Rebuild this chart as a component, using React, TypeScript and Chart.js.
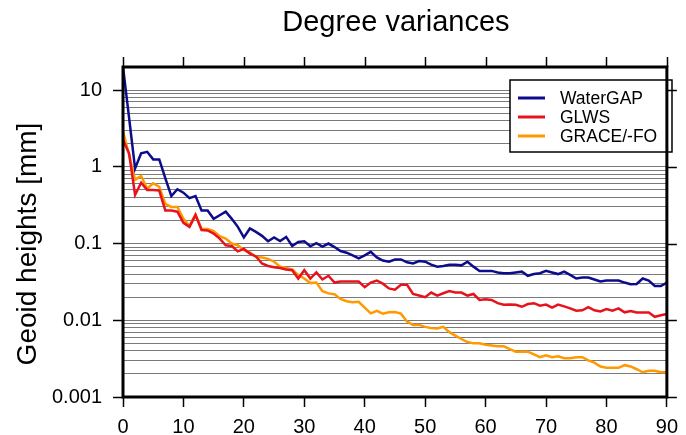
import React, { useEffect, useRef } from "react";
import { Chart, registerables } from "chart.js";

Chart.register(...registerables);

const degrees = [
  0, 1, 2, 3, 4, 5, 6, 7, 8, 9, 10, 11, 12, 13, 14, 15, 16, 17, 18, 19, 20,
  21, 22, 23, 24, 25, 26, 27, 28, 29, 30, 31, 32, 33, 34, 35, 36, 37, 38, 39, 40,
  41, 42, 43, 44, 45, 46, 47, 48, 49, 50, 51, 52, 53, 54, 55, 56, 57, 58, 59, 60,
  61, 62, 63, 64, 65, 66, 67, 68, 69, 70, 71, 72, 73, 74, 75, 76, 77, 78, 79, 80,
  81, 82, 83, 84, 85, 86, 87, 88, 89, 90,
];

const waterGAP = [
  20, 4.4, 0.95, 1.5, 1.57, 1.25, 1.25, 0.71, 0.415, 0.51, 0.46,
  0.39, 0.415, 0.27, 0.27, 0.21, 0.234, 0.26, 0.21, 0.165, 0.12,
  0.157, 0.142, 0.126, 0.107, 0.12, 0.108, 0.122, 0.093, 0.105, 0.107,
  0.092, 0.101, 0.091, 0.1, 0.09, 0.08, 0.076, 0.07, 0.064, 0.07,
  0.078, 0.066, 0.06, 0.058, 0.062, 0.062, 0.057, 0.055, 0.059, 0.058,
  0.053, 0.05, 0.051, 0.053, 0.053, 0.052, 0.058, 0.05, 0.044, 0.044,
  0.044, 0.042, 0.041, 0.041, 0.042, 0.043, 0.038, 0.04, 0.041, 0.044,
  0.042, 0.04, 0.043, 0.039, 0.035, 0.036, 0.036, 0.034, 0.032, 0.033,
  0.033, 0.033, 0.031, 0.0295, 0.0297, 0.035, 0.033, 0.028, 0.028, 0.031,
];

const glws = [
  2.23, 1.5, 0.43, 0.62, 0.5, 0.5, 0.49, 0.27, 0.27, 0.26, 0.186,
  0.165, 0.235, 0.15, 0.148, 0.135, 0.116, 0.095, 0.093, 0.079, 0.085,
  0.074, 0.068, 0.055, 0.051, 0.049, 0.048, 0.046, 0.045, 0.035, 0.045,
  0.035, 0.042, 0.034, 0.038, 0.031, 0.032, 0.032, 0.032, 0.032, 0.027,
  0.031, 0.033, 0.03, 0.026, 0.025, 0.029, 0.029, 0.022, 0.021, 0.02,
  0.023, 0.021, 0.0225, 0.024, 0.023, 0.023, 0.021, 0.022, 0.0184, 0.0188,
  0.0184, 0.0167, 0.0159, 0.016, 0.0159, 0.015, 0.0163, 0.0167, 0.0155, 0.016,
  0.0146, 0.016, 0.0152, 0.0143, 0.0133, 0.0135, 0.0148, 0.0135, 0.013, 0.014,
  0.0133, 0.0143, 0.0127, 0.0132, 0.0126, 0.0126, 0.0126, 0.0111, 0.0116, 0.0121,
];

const graceFO = [
  2.87, 1.45, 0.68, 0.76, 0.52, 0.61, 0.55, 0.33, 0.3, 0.3, 0.21,
  0.17, 0.24, 0.155, 0.155, 0.145, 0.125, 0.116, 0.1, 0.095, 0.082,
  0.077, 0.067, 0.066, 0.063, 0.058, 0.05, 0.048, 0.046, 0.039, 0.035,
  0.0305, 0.031, 0.024, 0.0224, 0.0218, 0.019, 0.0177, 0.0172, 0.0174, 0.0146,
  0.0123, 0.0133, 0.0122, 0.0127, 0.0128, 0.0122, 0.0096, 0.0087, 0.0087, 0.0082,
  0.0079, 0.0078, 0.0082, 0.007, 0.0063, 0.0057, 0.0052, 0.005, 0.005, 0.0048,
  0.0047, 0.0046, 0.0046, 0.0042, 0.0039, 0.0039, 0.0039, 0.0036, 0.0033, 0.0035,
  0.0033, 0.0034, 0.0032, 0.0032, 0.0033, 0.0033, 0.003, 0.0028, 0.0025, 0.0024,
  0.0024, 0.0024, 0.0026, 0.0025, 0.0023, 0.0021, 0.0022, 0.0022, 0.0021, 0.0021,
];

const seriesLabels = ["WaterGAP", "GLWS", "GRACE/-FO"];
const seriesColors = ["#0c0c8c", "#e8121c", "#ff9900"];

const yGridValues = [
  0.001, 0.002, 0.003, 0.004, 0.005, 0.006, 0.007, 0.008, 0.009,
  0.01, 0.02, 0.03, 0.04, 0.05, 0.06, 0.07, 0.08, 0.09,
  0.1, 0.2, 0.3, 0.4, 0.5, 0.6, 0.7, 0.8, 0.9,
  1, 2, 3, 4, 5, 6, 7, 8, 9,
  10, 20,
];
const yLabelValues = [0.001, 0.01, 0.1, 1, 10];

const titleText = "Degree variances";
const yTitleText = "Geoid heights [mm]";
const FONT = "'Liberation Sans', Arial, Helvetica, sans-serif";

const isDecade = (v: number) => yLabelValues.some((d) => Math.abs(d - v) / d < 1e-6);

const decorPlugin = {
  id: "decor",
  afterDatasetsDraw(chart: any) {
    const { ctx } = chart;
    // legend box
    const bx = 510, by = 80, bw = 162, bh = 72;
    ctx.save();
    ctx.fillStyle = "#ffffff";
    ctx.fillRect(bx, by, bw, bh);
    ctx.strokeStyle = "#000";
    ctx.lineWidth = 1.5;
    ctx.strokeRect(bx, by, bw, bh);
    ctx.font = `17.5px ${FONT}`;
    ctx.textBaseline = "middle";
    ctx.textAlign = "left";
    chart.data.datasets.forEach((ds: any, i: number) => {
      const y = by + 18 + i * 19;
      ctx.strokeStyle = ds.borderColor;
      ctx.lineWidth = 3;
      ctx.beginPath();
      ctx.moveTo(bx + 8, y);
      ctx.lineTo(bx + 35, y);
      ctx.stroke();
      ctx.fillStyle = "#000";
      ctx.fillText(ds.label, bx + 50, y + 1);
    });
    ctx.restore();
  },
  afterDraw(chart: any) {
    const { ctx, chartArea: a, scales } = chart;
    ctx.save();
    ctx.strokeStyle = "#000";
    ctx.lineWidth = 1.5;
    // top ticks
    scales.x.ticks.forEach((t: any) => {
      const px = Math.round(scales.x.getPixelForValue(t.value)) + 0.5;
      ctx.beginPath();
      ctx.moveTo(px, a.top);
      ctx.lineTo(px, a.top - 10);
      ctx.stroke();
    });
    // right ticks
    yLabelValues.forEach((v) => {
      const py = Math.round(scales.y.getPixelForValue(v)) + 0.5;
      ctx.beginPath();
      ctx.moveTo(a.right, py);
      ctx.lineTo(a.right + 10, py);
      ctx.stroke();
    });
    // frame
    ctx.lineWidth = 3;
    ctx.strokeRect(a.left, a.top, a.right - a.left, a.bottom - a.top);
    // title
    ctx.fillStyle = "#000";
    ctx.font = `29px ${FONT}`;
    ctx.textAlign = "center";
    ctx.textBaseline = "alphabetic";
    ctx.fillText(titleText, (a.left + a.right) / 2 + 1, 31);
    // y-axis title
    ctx.save();
    ctx.translate(28, 244);
    ctx.rotate(-Math.PI / 2);
    ctx.font = `28px ${FONT}`;
    ctx.textBaseline = "middle";
    ctx.fillText(yTitleText, 0, 0);
    ctx.restore();
    ctx.restore();
  },
};

export default function App() {
  const ref = useRef<HTMLCanvasElement | null>(null);

  useEffect(() => {
    if (!ref.current) return;
    const series = [waterGAP, glws, graceFO];
    const chart = new Chart(ref.current, {
      type: "line",
      data: {
        labels: degrees,
        datasets: series.map((d, i) => ({
          label: seriesLabels[i],
          data: d,
          borderColor: seriesColors[i],
          backgroundColor: seriesColors[i],
          borderWidth: 2.5,
          pointRadius: 0,
          tension: 0,
          fill: false,
        })),
      },
      options: {
        animation: false,
        responsive: false,
        devicePixelRatio: 1,
        layout: { padding: { top: 67, right: 13, left: 0, bottom: 0 } },
        plugins: {
          legend: { display: false },
          title: { display: false },
          tooltip: { enabled: false },
        },
        scales: {
          x: {
            type: "linear",
            min: 0,
            max: 90,
            afterFit: (s: any) => {
              s.height = 38;
            },
            border: { display: false },
            grid: {
              drawOnChartArea: false,
              drawTicks: true,
              tickLength: 10,
              tickColor: "#000",
              tickWidth: 1.5,
            },
            ticks: {
              stepSize: 10,
              autoSkip: false,
              maxRotation: 0,
              padding: 8,
              color: "#000",
              font: { family: FONT, size: 20 },
            },
          },
          y: {
            type: "logarithmic",
            min: 0.001,
            max: 20,
            afterFit: (s: any) => {
              s.width = 123;
            },
            afterBuildTicks: (s: any) => {
              s.ticks = yGridValues.map((v) => ({ value: v }));
            },
            border: { display: false },
            grid: {
              drawOnChartArea: true,
              drawTicks: true,
              tickLength: 10,
              color: "#7a7a7a",
              lineWidth: 1,
              tickColor: (c: any) => (c.tick && isDecade(c.tick.value) ? "#000" : "rgba(0,0,0,0)"),
              tickWidth: 1.5,
            },
            ticks: {
              autoSkip: false,
              padding: 11,
              color: "#000",
              font: { family: FONT, size: 20 },
              callback: (v: any) => (isDecade(Number(v)) ? String(Number(v)) : ""),
            },
          },
        },
      },
      plugins: [decorPlugin],
    });
    return () => chart.destroy();
  }, []);

  return (
    <div style={{ position: "absolute", left: 0, top: 0, width: 686, height: 435, background: "#fff" }}>
      <canvas ref={ref} width={686} height={435} style={{ display: "block", width: 686, height: 435 }} />
    </div>
  );
}
